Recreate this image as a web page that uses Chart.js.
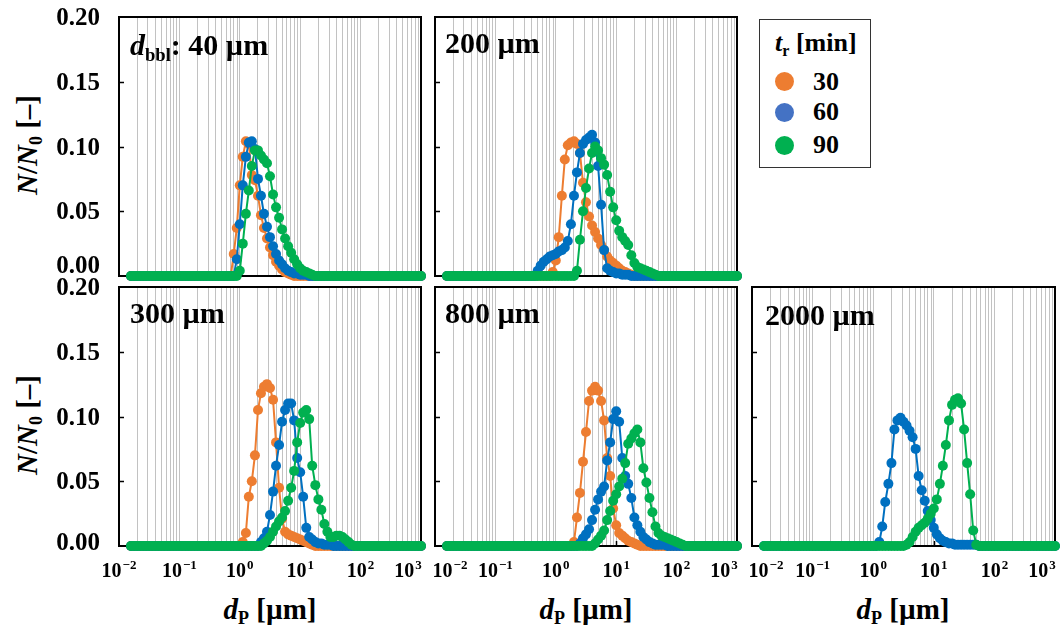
<!DOCTYPE html>
<html lang="en">
<head>
<meta charset="utf-8">
<title>N/N0 vs dP</title>
<script src="https://cdn.jsdelivr.net/npm/chart.js@4.4.1/dist/chart.umd.min.js"></script>
<style>
    html, body { margin: 0; padding: 0; background: #fff; }
    body {
        position: relative; width: 1064px; height: 628px; overflow: hidden;
        font-family: "Liberation Serif", "DejaVu Serif", serif; font-weight: bold; color: #000;
    }
    .box { position: absolute; }
    .txt { position: absolute; white-space: nowrap; line-height: 1; }
    .txt sub { font-size: 0.62em; position: relative; top: 0.3em; vertical-align: baseline; line-height: 0; }
    .panel-label { font-size: 30px; }
    .axis-title { font-size: 29px; transform: translate(-50%, -50%); }
    .y-title { font-size: 29px; transform: translate(-50%, -50%) rotate(-90deg); }
    .legend-box { position: absolute; left: 759px; top: 19px; width: 112px; height: 149px;
                  border: 1.5px solid #333; box-sizing: border-box; }
    .legend-dot { position: absolute; width: 19px; height: 19px; border-radius: 50%; }
    .legend-txt { font-size: 26px; }
</style>
</head>
<body>

<!-- titres d'axes -->
<div class="txt y-title" style="left:27px; top:145px;"><i>N</i>/<i>N</i><sub>0</sub> [–]</div>
<div class="txt y-title" style="left:27px; top:425px;"><i>N</i>/<i>N</i><sub>0</sub> [–]</div>
<div class="txt axis-title" style="left:270px; top:609px;"><i>d</i><sub>P</sub> [µm]</div>
<div class="txt axis-title" style="left:586px; top:609px;"><i>d</i><sub>P</sub> [µm]</div>
<div class="txt axis-title" style="left:903px; top:609px;"><i>d</i><sub>P</sub> [µm]</div>

<!-- légende -->
<div class="legend-box"></div>
<div class="txt legend-txt" style="left:775px; top:30px;"><i>t</i><sub>r</sub> [min]</div>
<div class="legend-dot" style="left:775px; top:72px; background:#ED7D31;"></div>
<div class="legend-dot" style="left:775px; top:103px; background:#4472C4;"></div>
<div class="legend-dot" style="left:775px; top:136px; background:#00B050;"></div>
<div class="txt legend-txt" style="left:813px; top:69px;">30</div>
<div class="txt legend-txt" style="left:813px; top:99px;">60</div>
<div class="txt legend-txt" style="left:813px; top:132px;">90</div>

<script>
/* ── Données ───────────────────────────────────────────────── */

// particle size bins [µm]
const binSizes = [
    0.0158, 0.0178, 0.0200, 0.0224, 0.0251, 0.0282, 0.0316, 0.0355, 0.0398, 0.0447,
    0.0501, 0.0562, 0.0631, 0.0708, 0.0794, 0.0891,
    0.100, 0.112, 0.126, 0.141, 0.158, 0.178, 0.200, 0.224, 0.251, 0.282,
    0.316, 0.355, 0.398, 0.447, 0.501, 0.562, 0.631, 0.708, 0.794, 0.891,
    1.00, 1.12, 1.26, 1.41, 1.58, 1.78, 2.00, 2.24, 2.51, 2.82,
    3.16, 3.55, 3.98, 4.47, 5.01, 5.62, 6.31, 7.08, 7.94, 8.91,
    10.0, 11.2, 12.6, 14.1, 15.8, 17.8, 20.0, 22.4, 25.1, 28.2,
    31.6, 35.5, 39.8, 44.7, 50.1, 56.2, 63.1, 70.8, 79.4, 89.1,
    100, 112, 126, 141, 158, 178, 200, 224, 251, 282,
    316, 355, 398, 447, 501, 562, 631, 708, 794, 891,
    1000,
];

const yTicks      = [0, 0.05, 0.10, 0.15, 0.20];
const yTickLabels = ["0.00", "0.05", "0.10", "0.15", "0.20"];
const xDecades    = [0.01, 0.1, 1, 10, 100, 1000];
const xDecadeExps = ["\u22122", "\u22121", "0", "1", "2", "3"];
const xMinorSteps = [1, 2, 3, 4, 5, 6, 7, 8, 9];

const seriesNames = ["30", "60", "90"];

// N/N0 per bin: "from" = first bin index of the listed values, 0 outside
const d40_t30 = { from: 34, y: [0.017, 0.037, 0.070, 0.092, 0.104, 0.102, 0.078, 0.074, 0.062, 0.047, 0.037, 0.029, 0.022, 0.016, 0.011, 0.008, 0.005, 0.003, 0.002, 0.001] };
const d40_t60 = { from: 35, y: [0.013, 0.040, 0.070, 0.092, 0.103, 0.104, 0.098, 0.075, 0.062, 0.048, 0.038, 0.030, 0.023, 0.017, 0.012, 0.009, 0.006, 0.004, 0.003, 0.002, 0.002, 0.001, 0.001, 0.001] };
const d40_t90 = { from: 36, y: [0.004, 0.025, 0.048, 0.066, 0.085, 0.097, 0.097, 0.093, 0.090, 0.087, 0.077, 0.063, 0.053, 0.045, 0.036, 0.029, 0.023, 0.018, 0.013, 0.009, 0.006, 0.004, 0.003, 0.002, 0.001] };

const d200_t30 = { from: 35, y: [0.003, 0.012, 0.030, 0.062, 0.090, 0.101, 0.103, 0.104, 0.102, 0.095, 0.072, 0.057, 0.046, 0.039, 0.034, 0.029, 0.024, 0.020, 0.015, 0.012, 0.010, 0.008, 0.006, 0.004, 0.003, 0.002, 0.001] };
const d200_t60 = { from: 30, y: [0.004, 0.008, 0.011, 0.013, 0.015, 0.016, 0.017, 0.019, 0.020, 0.022, 0.027, 0.040, 0.062, 0.080, 0.095, 0.102, 0.105, 0.107, 0.109, 0.103, 0.085, 0.055, 0.020, 0.006, 0.004, 0.003, 0.002, 0.002, 0.001, 0.001, 0.001] };
const d200_t90 = { from: 43, y: [0.004, 0.028, 0.050, 0.068, 0.083, 0.095, 0.100, 0.097, 0.091, 0.086, 0.078, 0.065, 0.053, 0.043, 0.035, 0.030, 0.027, 0.024, 0.016, 0.010, 0.007, 0.006, 0.005, 0.004, 0.003, 0.002, 0.001] };

const d300_t30 = { from: 37, y: [0.003, 0.010, 0.038, 0.050, 0.070, 0.105, 0.118, 0.123, 0.125, 0.122, 0.113, 0.080, 0.045, 0.021, 0.011, 0.009, 0.008, 0.007, 0.006, 0.005, 0.004, 0.003, 0.002, 0.001] };
const d300_t60 = { from: 43, y: [0.003, 0.006, 0.011, 0.024, 0.042, 0.062, 0.078, 0.096, 0.105, 0.110, 0.110, 0.097, 0.068, 0.057, 0.038, 0.014, 0.007, 0.005, 0.003, 0.002, 0.002, 0.001, 0.001, 0.001] };
const d300_t90 = { from: 44, y: [0.002, 0.004, 0.007, 0.011, 0.015, 0.019, 0.022, 0.027, 0.035, 0.045, 0.058, 0.080, 0.095, 0.103, 0.105, 0.098, 0.062, 0.047, 0.036, 0.028, 0.017, 0.011, 0.007, 0.007, 0.008, 0.008, 0.007, 0.005, 0.003, 0.001] };

const d800_t30 = { from: 42, y: [0.003, 0.022, 0.041, 0.065, 0.088, 0.112, 0.120, 0.123, 0.120, 0.112, 0.097, 0.068, 0.054, 0.029, 0.016, 0.010, 0.008, 0.006, 0.004, 0.003, 0.002, 0.001] };
const d800_t60 = { from: 44, y: [0.002, 0.006, 0.009, 0.013, 0.020, 0.028, 0.036, 0.042, 0.046, 0.066, 0.080, 0.098, 0.104, 0.096, 0.068, 0.054, 0.048, 0.037, 0.022, 0.016, 0.011, 0.007, 0.005, 0.003, 0.002, 0.001, 0.001, 0.001, 0.001] };
const d800_t90 = { from: 49, y: [0.002, 0.005, 0.008, 0.012, 0.020, 0.027, 0.035, 0.040, 0.046, 0.052, 0.064, 0.079, 0.083, 0.087, 0.090, 0.080, 0.060, 0.049, 0.037, 0.026, 0.015, 0.010, 0.008, 0.007, 0.006, 0.005, 0.004, 0.003, 0.002, 0.001] };

const d2000_t60 = { from: 38, y: [0.003, 0.015, 0.034, 0.048, 0.064, 0.090, 0.097, 0.099, 0.096, 0.093, 0.089, 0.084, 0.075, 0.054, 0.043, 0.035, 0.027, 0.020, 0.014, 0.009, 0.006, 0.004, 0.003, 0.002, 0.002, 0.001, 0.001, 0.001, 0.001, 0.001, 0.001, 0.001, 0.001] };
const d2000_t90 = { from: 47, y: [0.001, 0.003, 0.007, 0.011, 0.014, 0.016, 0.018, 0.021, 0.025, 0.029, 0.036, 0.048, 0.062, 0.078, 0.097, 0.109, 0.113, 0.114, 0.110, 0.090, 0.064, 0.040, 0.012, 0.001] };

/* ── Style ─────────────────────────────────────────────────── */

const COLORS = { "30": "#ED7D31", "60": "#0070C0", "90": "#00B050" };
const SERIF  = '"Liberation Serif", "DejaVu Serif", serif';

const gridValues = xDecades.slice(0, -1)
    .flatMap((d) => xMinorSteps.map((k) => d * k))
    .concat([xDecades[xDecades.length - 1]]);

function fullSeries(s) {
    return binSizes.map((x, i) => ({
        x,
        y: (i >= s.from && i < s.from + s.y.length) ? s.y[i - s.from] : 0,
    }));
}

// cadre, petites graduations, libellés des axes
const framePlugin = {
    id: "frame",
    beforeDatasetsDraw(chart, args, o) {
        const { ctx, chartArea: a, scales: { x, y } } = chart;
        ctx.save();
        ctx.strokeStyle = "#000";
        ctx.lineWidth = 1.5;
        ctx.beginPath();
        yTicks.slice(1, -1).forEach((v) => {
            const py = Math.round(y.getPixelForValue(v)) + 0.5;
            ctx.moveTo(a.left, py); ctx.lineTo(a.left + 5, py);
        });
        xDecades.slice(1, -1).forEach((v) => {
            const px = Math.round(x.getPixelForValue(v)) + 0.5;
            ctx.moveTo(px, a.bottom); ctx.lineTo(px, a.bottom - 5);
        });
        ctx.stroke();
        ctx.lineWidth = 2;
        ctx.strokeRect(a.left, a.top, a.right - a.left, a.bottom - a.top);

        ctx.fillStyle = "#000";
        ctx.textBaseline = "alphabetic";
        if (o.yLabels) {
            ctx.font = `bold 25px ${SERIF}`;
            ctx.textAlign = "right";
            yTicks.forEach((v, i) => {
                let py = y.getPixelForValue(v) + 8;
                if (v === 0) py -= o.zeroLift;
                ctx.fillText(yTickLabels[i], a.left - 19, py);
            });
        }
        if (o.xLabels) {
            ctx.textAlign = "left";
            xDecades.forEach((v, i) => {
                ctx.font = `bold 20px ${SERIF}`;
                const wb = ctx.measureText("10").width;
                ctx.font = `bold 13px ${SERIF}`;
                const we = ctx.measureText(xDecadeExps[i]).width;
                let cx = x.getPixelForValue(v);
                if (i === 0) cx += o.firstShift;
                if (i === xDecades.length - 1) cx -= 13;
                const left = cx - (wb + we + 1) / 2;
                ctx.font = `bold 20px ${SERIF}`;
                ctx.fillText("10", left, a.bottom + 31);
                ctx.font = `bold 13px ${SERIF}`;
                ctx.fillText(xDecadeExps[i], left + wb + 1, a.bottom + 23);
            });
        }
        ctx.restore();
    },
};

/* ── Panneaux ──────────────────────────────────────────────── */

function makePanel(p) {
    const [l, t, w, h] = p.plot;
    const m = p.margin;
    const wrap = document.createElement("div");
    wrap.className = "box";
    wrap.style.left = `${l - m.left}px`;
    wrap.style.top  = `${t - m.top}px`;
    const canvas = document.createElement("canvas");
    canvas.width  = w + m.left + m.right;
    canvas.height = h + m.top + m.bottom;
    wrap.appendChild(canvas);
    document.body.appendChild(wrap);

    const sets = [p.t30, p.t60, p.t90];
    const datasets = [];
    sets.forEach((s, i) => {
        if (!s) return;
        const name = seriesNames[i];
        datasets.push({
            label: name,
            data: fullSeries(s),
            borderColor: COLORS[name],
            backgroundColor: COLORS[name],
            pointBackgroundColor: COLORS[name],
            pointRadius: 5,
            pointHoverRadius: 5,
            pointBorderWidth: 0,
            borderWidth: 2,
            tension: 0,
            clip: false,
            order: 3 - i,
        });
    });

    new Chart(canvas, {
        type: "line",
        data: { datasets },
        plugins: [framePlugin],
        options: {
            responsive: false,
            animation: false,
            events: [],
            layout: { padding: { left: 0, top: m.top, right: m.right, bottom: 0 } },
            plugins: {
                legend: { display: false },
                tooltip: { enabled: false },
                frame: { yLabels: p.yLabels, xLabels: p.xLabels, zeroLift: p.zeroLift, firstShift: p.firstShift },
            },
            scales: {
                x: {
                    type: "logarithmic",
                    min: xDecades[0],
                    max: xDecades[xDecades.length - 1],
                    afterBuildTicks: (s) => { s.ticks = gridValues.map((v) => ({ value: v })); },
                    afterFit: (s) => { s.height = m.bottom; },
                    ticks: { display: false, autoSkip: false },
                    grid: { color: "#c2c2c2", lineWidth: 1, drawTicks: false },
                    border: { display: false },
                },
                y: {
                    type: "linear",
                    min: yTicks[0],
                    max: yTicks[yTicks.length - 1],
                    afterFit: (s) => { s.width = m.left; },
                    ticks: { display: false },
                    grid: { display: false },
                    border: { display: false },
                },
            },
        },
    });
}

const TOP    = { left: 12, top: 12, right: 12, bottom: 8 };
const BOTTOM = { left: 12, top: 12, right: 12, bottom: 40 };

makePanel({ plot: [119, 17, 302, 259], margin: { ...TOP, left: 119 }, yLabels: true,  xLabels: false, zeroLift: 11, firstShift: 0,
            t30: d40_t30, t60: d40_t60, t90: d40_t90 });
makePanel({ plot: [435, 17, 302, 259], margin: TOP, yLabels: false, xLabels: false, zeroLift: 0, firstShift: 0,
            t30: d200_t30, t60: d200_t60, t90: d200_t90 });
makePanel({ plot: [119, 287, 302, 259], margin: { ...BOTTOM, left: 119 }, yLabels: true, xLabels: true, zeroLift: 4, firstShift: 0,
            t30: d300_t30, t60: d300_t60, t90: d300_t90 });
makePanel({ plot: [435, 287, 302, 259], margin: BOTTOM, yLabels: false, xLabels: true, zeroLift: 0, firstShift: 15,
            t30: d800_t30, t60: d800_t60, t90: d800_t90 });
makePanel({ plot: [752, 287, 303, 259], margin: { ...BOTTOM, right: 9 }, yLabels: false, xLabels: true, zeroLift: 0, firstShift: 14,
            t30: null, t60: d2000_t60, t90: d2000_t90 });
</script>

<!-- libellés des panneaux -->
<div class="txt panel-label" style="left:130px; top:30px;"><i>d</i><sub>bbl</sub>: 40 µm</div>
<div class="txt panel-label" style="left:445px; top:28px;">200 µm</div>
<div class="txt panel-label" style="left:130px; top:298px;">300 µm</div>
<div class="txt panel-label" style="left:445px; top:298px;">800 µm</div>
<div class="txt panel-label" style="left:765px; top:300px;">2000 µm</div>

</body>
</html>
